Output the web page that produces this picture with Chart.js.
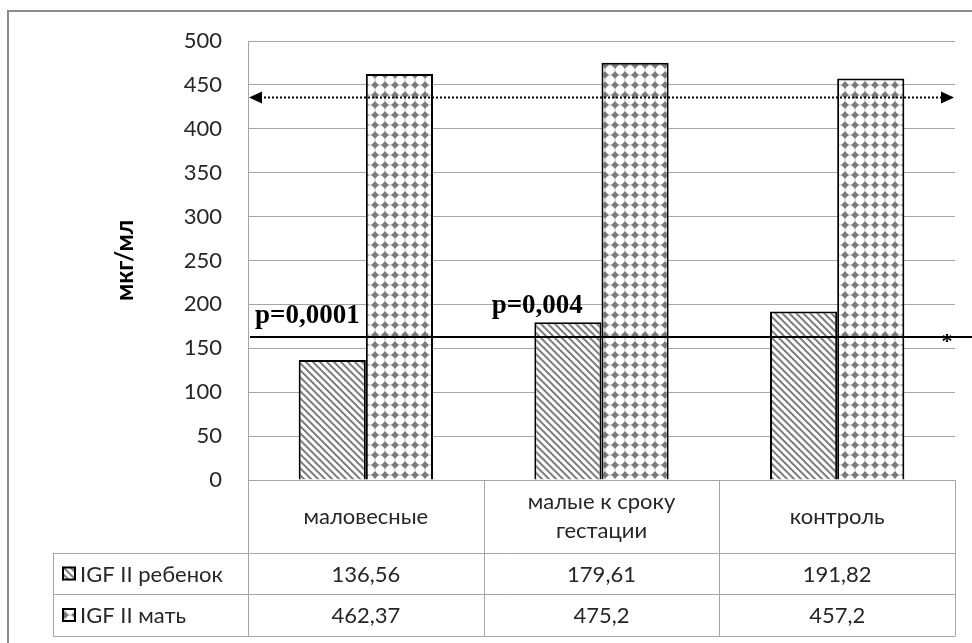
<!DOCTYPE html>
<html>
<head>
<meta charset="utf-8">
<script src="https://cdn.jsdelivr.net/npm/chart.js@4.4.1/dist/chart.umd.min.js"></script>
<style>
  html, body { margin: 0; padding: 0; background: #fff; }
  #wrap { width: 972px; height: 643px; }
</style>
</head>
<body>
<div id="wrap"><canvas id="chart" width="972" height="643"></canvas></div>
<script>
// данные
const categories = [['маловесные'], ['малые к сроку', 'гестации'], ['контроль']];
const seriesNames = ['IGF II ребенок', 'IGF II мать'];
const childValues = [136.56, 179.61, 191.82];
const motherValues = [462.37, 475.2, 457.2];
const yTicks = { min: 0, max: 500, step: 50 };
const refUpper = 436;   // пунктир со стрелками
const refLower = 163;   // сплошная линия
const pLabels = ['p=0,0001', 'p=0,004'];
const pCategory = [0, 1];
const pValue = [179, 190];

const FONT = 'Lato, "Open Sans", sans-serif';
const TEXT = '#262626';
const GRID = '#a6a6a6';

function hatchPattern() {
    const c = document.createElement('canvas');
    c.width = 7; c.height = 7;
    const g = c.getContext('2d');
    g.fillStyle = '#fff';
    g.fillRect(0, 0, 7, 7);
    g.strokeStyle = '#7f7f7f';
    g.lineWidth = 2;
    [-7, 0, 7].forEach(o => {
        g.beginPath();
        g.moveTo(o - 1, -1);
        g.lineTo(o + 8, 8);
        g.stroke();
    });
    return g.createPattern(c, 'repeat');
}

function dotPattern() {
    const c = document.createElement('canvas');
    c.width = 10; c.height = 10;
    const g = c.getContext('2d');
    g.fillStyle = '#fff';
    g.fillRect(0, 0, 10, 10);
    g.fillStyle = '#c0c0c0';
    g.fillRect(0, 4.5, 10, 1);
    g.fillRect(4.5, 0, 1, 10);
    g.fillStyle = '#7a7a7a';
    g.beginPath();
    g.moveTo(5, 1.2); g.lineTo(8.8, 5); g.lineTo(5, 8.8); g.lineTo(1.2, 5);
    g.closePath();
    g.fill();
    return g.createPattern(c, 'repeat');
}

const hatch = hatchPattern();
const dots = dotPattern();
const fmt = v => String(v).replace('.', ',');

const frame = {
    id: 'frame',
    beforeDraw(chart) {
        const ctx = chart.ctx;
        ctx.save();
        ctx.fillStyle = '#fff';
        ctx.fillRect(0, 0, chart.width, chart.height);
        ctx.strokeStyle = '#8c8c8c';
        ctx.lineWidth = 2;
        ctx.strokeRect(8, 11, chart.width + 20, chart.height + 20);
        ctx.restore();
    }
};

const refLines = {
    id: 'refLines',
    afterDatasetsDraw(chart) {
        const ctx = chart.ctx, y = chart.scales.y, x = chart.scales.x, a = chart.chartArea;
        ctx.save();
        // пунктир со стрелками
        const yu = Math.round(y.getPixelForValue(refUpper)) + 0.5;
        ctx.strokeStyle = '#000';
        ctx.fillStyle = '#000';
        ctx.lineWidth = 2;
        ctx.setLineDash([2, 2]);
        ctx.beginPath();
        ctx.moveTo(a.left + 12, yu);
        ctx.lineTo(a.right - 12, yu);
        ctx.stroke();
        ctx.setLineDash([]);
        ctx.beginPath();
        ctx.moveTo(a.left + 1, yu); ctx.lineTo(a.left + 14, yu - 6); ctx.lineTo(a.left + 14, yu + 6);
        ctx.closePath(); ctx.fill();
        ctx.beginPath();
        ctx.moveTo(a.right - 1, yu); ctx.lineTo(a.right - 14, yu - 6); ctx.lineTo(a.right - 14, yu + 6);
        ctx.closePath(); ctx.fill();
        // сплошная линия
        const yl = Math.round(y.getPixelForValue(refLower));
        ctx.beginPath();
        ctx.moveTo(a.left + 2, yl);
        ctx.lineTo(chart.width, yl);
        ctx.stroke();
        ctx.font = 'bold 22px "Liberation Serif", serif';
        ctx.textAlign = 'center';
        ctx.textBaseline = 'middle';
        ctx.fillText('*', a.right - 8, yl + 5);
        // p-значения
        const colW = (a.right - a.left) / categories.length;
        ctx.font = 'bold 27px "Liberation Serif", serif';
        ctx.textAlign = 'left';
        ctx.textBaseline = 'alphabetic';
        pLabels.forEach((t, i) => {
            const left = x.getPixelForValue(pCategory[i]) - colW / 2;
            ctx.fillText(t, left + 7 + i, y.getPixelForValue(pValue[i]));
        });
        ctx.restore();
    }
};

const dataTable = {
    id: 'dataTable',
    afterDraw(chart) {
        const ctx = chart.ctx, x = chart.scales.x, a = chart.chartArea;
        const colW = (a.right - a.left) / categories.length;
        const top = a.bottom, h1 = top + 73, h2 = h1 + 41, h3 = h2 + 42;
        const tableLeft = 53;
        ctx.save();
        ctx.strokeStyle = GRID;
        ctx.lineWidth = 1;
        const line = (x1, y1, x2, y2) => {
            ctx.beginPath(); ctx.moveTo(x1, y1); ctx.lineTo(x2, y2); ctx.stroke();
        };
        const R = Math.round(a.right) + 0.5;
        line(a.left, top + 0.5, R, top + 0.5);
        [h1, h2, h3].forEach(yy => line(tableLeft, yy + 0.5, R, yy + 0.5));
        line(tableLeft + 0.5, h1, tableLeft + 0.5, h3);
        for (let i = 0; i <= categories.length; i++) {
            const xx = Math.round(a.left + colW * i) + 0.5;
            line(xx, top, xx, h3);
        }
        ctx.fillStyle = TEXT;
        ctx.font = '22px ' + FONT;
        ctx.textAlign = 'center';
        ctx.textBaseline = 'middle';
        categories.forEach((lines, i) => {
            const cx = x.getPixelForValue(i);
            const cy = (top + h1) / 2;
            lines.forEach((t, j) => {
                ctx.fillText(t, cx, cy + (j - (lines.length - 1) / 2) * 29);
            });
            ctx.fillText(fmt(childValues[i]), cx, (h1 + h2) / 2 + 1);
            ctx.fillText(fmt(motherValues[i]), cx, (h2 + h3) / 2 + 1);
        });
        // легенда
        const pats = [hatch, dots];
        [(h1 + h2) / 2, (h2 + h3) / 2].forEach((cy, k) => {
            ctx.fillStyle = pats[k];
            ctx.fillRect(62, cy - 7, 14, 14);
            ctx.strokeStyle = '#000';
            ctx.lineWidth = 2;
            ctx.strokeRect(63, cy - 6, 12, 12);
            ctx.fillStyle = TEXT;
            ctx.textAlign = 'left';
            ctx.fillText(seriesNames[k], 80, cy + 1);
        });
        ctx.restore();
    }
};

new Chart(document.getElementById('chart').getContext('2d'), {
    type: 'bar',
    data: {
        labels: categories,
        datasets: [
            { label: seriesNames[0], data: childValues, backgroundColor: hatch, borderColor: '#000', borderWidth: 2 },
            { label: seriesNames[1], data: motherValues, backgroundColor: dots, borderColor: '#000', borderWidth: 2 }
        ]
    },
    options: {
        responsive: false,
        animation: false,
        layout: { padding: { left: 100, top: 41, right: 17, bottom: 163 } },
        plugins: { legend: { display: false }, tooltip: { enabled: false } },
        datasets: { bar: { categoryPercentage: 0.57, barPercentage: 1 } },
        scales: {
            x: { display: false },
            y: {
                min: yTicks.min, max: yTicks.max,
                afterFit: s => { s.width = 148; },
                ticks: { stepSize: yTicks.step, padding: 26, color: TEXT, font: { family: FONT, size: 22 } },
                grid: { color: GRID, drawTicks: false },
                border: { display: true, color: GRID },
                title: {
                    display: true, text: 'мкг/мл', color: '#000',
                    font: { family: FONT, size: 24, weight: 'bold' },
                    padding: { top: 11, bottom: 4 }
                }
            }
        }
    },
    plugins: [frame, refLines, dataTable]
});
</script>
</body>
</html>
